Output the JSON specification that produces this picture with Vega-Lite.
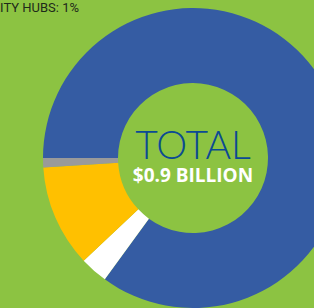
{
  "$schema": "https://vega.github.io/schema/vega-lite/v6.json",
  "width": 386,
  "height": 316,
  "autosize": {"type": "none"},
  "padding": 0,
  "background": "#8CC342",
  "config": {"view": {"stroke": null}},
  "layer": [
    {
      "data": {"values": [
        {"category": "Other", "share": 85, "order": 1},
        {"category": "White segment", "share": 3, "order": 2},
        {"category": "Yellow segment", "share": 11, "order": 3},
        {"category": "Mobility hubs", "share": 1, "order": 4}
      ]},
      "mark": {"type": "arc", "outerRadius": 150, "innerRadius": 75},
      "encoding": {
        "theta": {"field": "share", "type": "quantitative", "stack": true, "scale": {"range": [-1.5708, 4.7124]}},
        "order": {"field": "order", "type": "quantitative"},
        "color": {
          "field": "category", "type": "nominal", "legend": null,
          "scale": {"domain": ["Other", "White segment", "Yellow segment", "Mobility hubs"], "range": ["#355CA3", "#FFFFFF", "#FFC000", "#9A9A9A"]}
        }
      }
    },
    {
      "data": {"values": [{"t": "TOTAL"}]},
      "mark": {"type": "text", "font": "Lato", "fontWeight": 300, "fontSize": 39, "color": "#0B4A93", "align": "center", "baseline": "alphabetic", "dy": 1},
      "encoding": {"text": {"field": "t"}}
    },
    {
      "data": {"values": [{"t": "$0.9 BILLION"}]},
      "mark": {"type": "text", "font": "Open Sans", "fontWeight": "bold", "fontSize": 19, "color": "#FFFFFF", "align": "center", "baseline": "alphabetic", "dy": 24},
      "encoding": {"text": {"field": "t"}}
    },
    {
      "data": {"values": [{"t": "MOBILITY HUBS: 1%"}]},
      "mark": {"type": "text", "font": "Roboto", "fontSize": 13, "color": "#1E2A1A", "align": "right", "baseline": "alphabetic", "x": 79, "y": 12},
      "encoding": {"text": {"field": "t"}}
    }
  ]
}
